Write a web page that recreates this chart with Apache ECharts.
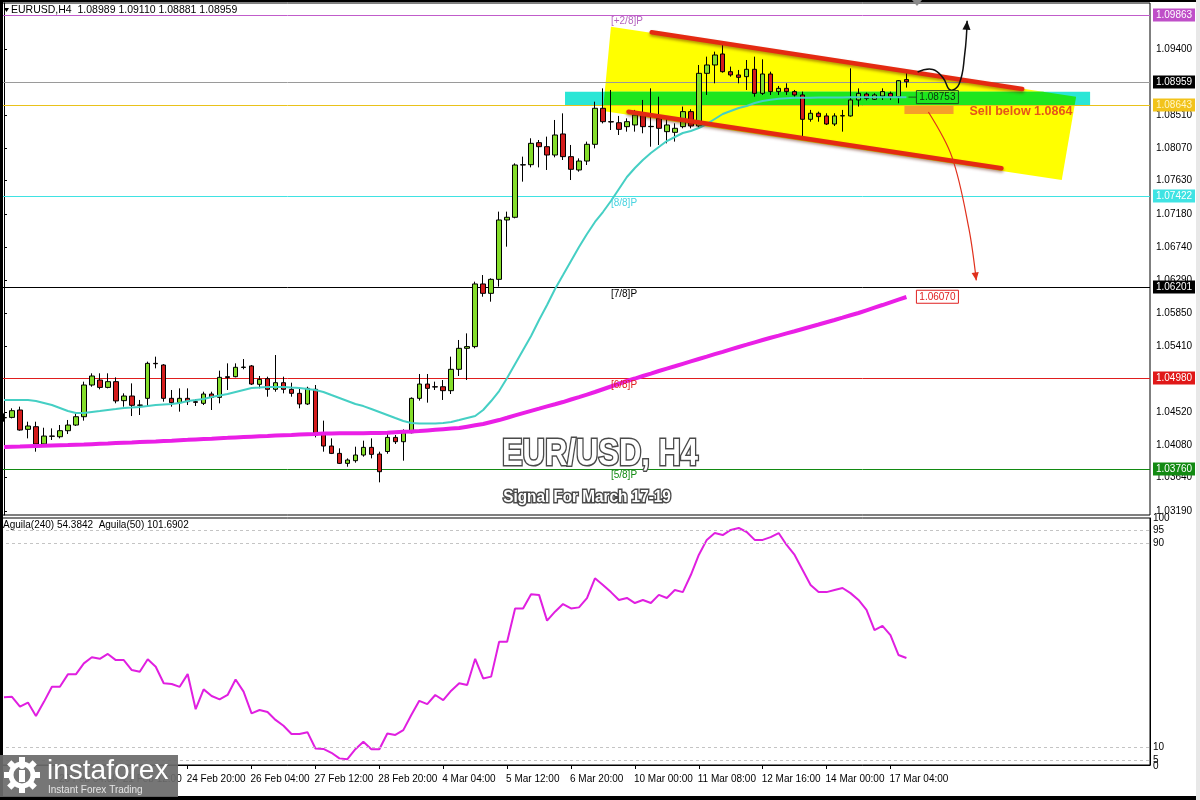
<!DOCTYPE html>
<html><head><meta charset="utf-8">
<script src="https://cdn.jsdelivr.net/npm/echarts@6/dist/echarts.min.js"></script>
<style>html,body{margin:0;padding:0;background:#fff;}#c{width:1200px;height:800px;}</style>
</head><body><div id="c"></div>
<script>
// ---------- price bars (H4 EURUSD) ----------
const opens = [1.04447,1.04449,1.04548,1.04288,1.04324,1.04091,1.04198,1.04189,1.04270,1.04346,
1.04458,1.04884,1.04951,1.04852,1.04929,1.04674,1.04736,1.04611,1.04705,1.05175,
1.05153,1.04705,1.04647,1.04705,1.04660,1.04638,1.04763,1.04718,1.04996,1.04996,
1.05120,1.05140,1.04893,1.04969,1.04826,1.04915,1.04826,1.04772,1.04629,1.04826,
1.04220,1.04064,1.03965,1.03831,1.03867,1.03943,1.04046,1.03956,1.03990,1.04180,
1.04122,1.04243,1.04705,1.04897,1.04861,1.04861,1.04808,1.05095,1.05377,1.05400,
1.06242,1.06116,1.06304,1.07102,1.07138,1.07841,1.07845,1.08141,1.08087,1.07975,
1.08258,1.07953,1.07774,1.07894,1.08119,1.08603,1.08423,1.08409,1.08356,1.08379,
1.08513,1.08356,1.08468,1.08289,1.08280,1.08356,1.08558,1.08365,1.09073,1.09185,
1.09333,1.09095,1.09051,1.09028,1.09127,1.08804,1.09064,1.08827,1.08871,1.08827,
1.08782,1.08455,1.08536,1.08500,1.08392,1.08500,1.08500,1.08715,1.08795,1.08724,
1.08768,1.08804,1.08759,1.08989];
const closes = [1.04443,1.04539,1.04279,1.04333,1.04091,1.04198,1.04195,1.04270,1.04346,1.04458,
1.04884,1.05005,1.04852,1.04929,1.04670,1.04736,1.04611,1.04615,1.05175,1.05170,
1.04705,1.04647,1.04705,1.04660,1.04651,1.04763,1.04718,1.04987,1.04985,1.05122,
1.05125,1.04897,1.04960,1.04826,1.04915,1.04826,1.04772,1.04629,1.04839,1.04212,
1.04064,1.03965,1.03831,1.03876,1.03943,1.04046,1.03952,1.03719,1.04180,1.04122,
1.04243,1.04705,1.04897,1.04839,1.04857,1.04808,1.05095,1.05377,1.05400,1.06242,
1.06116,1.06304,1.07102,1.07138,1.07841,1.07845,1.08132,1.08087,1.07975,1.08244,
1.07953,1.07783,1.07894,1.08119,1.08603,1.08423,1.08419,1.08320,1.08423,1.08513,
1.08356,1.08360,1.08334,1.08379,1.08334,1.08558,1.08365,1.09073,1.09185,1.09319,
1.09095,1.09051,1.09019,1.09127,1.08804,1.09064,1.08827,1.08871,1.08827,1.08782,
1.08455,1.08536,1.08491,1.08392,1.08500,1.08504,1.08715,1.08804,1.08735,1.08782,
1.08827,1.08759,1.08974,1.08959];
const lows = [1.04391,1.04436,1.04270,1.04167,1.03988,1.04078,1.04145,1.04167,1.04225,1.04333,
1.04405,1.04861,1.04826,1.04839,1.04638,1.04593,1.04467,1.04481,1.04593,1.05108,
1.04660,1.04593,1.04526,1.04615,1.04602,1.04615,1.04548,1.04638,1.04817,1.04987,
1.05095,1.04884,1.04839,1.04727,1.04794,1.04772,1.04727,1.04571,1.04615,1.04180,
1.03988,1.03956,1.03822,1.03786,1.03840,1.03921,1.03898,1.03576,1.03960,1.04091,
1.03867,1.04234,1.04674,1.04647,1.04817,1.04683,1.04763,1.05005,1.04951,1.05377,
1.06071,1.06004,1.06206,1.06743,1.07124,1.07617,1.07809,1.07809,1.07774,1.07944,
1.07908,1.07639,1.07751,1.07841,1.08065,1.08400,1.08311,1.08244,1.08289,1.08289,
1.08267,1.08087,1.08110,1.08132,1.08155,1.08334,1.08334,1.08334,1.08782,1.08939,
1.09082,1.09028,1.08939,1.08849,1.08759,1.08782,1.08782,1.08782,1.08782,1.08759,
1.08222,1.08423,1.08423,1.08379,1.08365,1.08289,1.08491,1.08626,1.08710,1.08715,
1.08715,1.08715,1.08670,1.08881];
const highs = [1.04503,1.04571,1.04593,1.04391,1.04391,1.04310,1.04301,1.04346,1.04414,1.04503,
1.04929,1.05041,1.05041,1.05041,1.04987,1.04772,1.04906,1.04683,1.05198,1.05265,
1.05165,1.04817,1.04839,1.04839,1.04692,1.04794,1.04794,1.05077,1.05175,1.05175,
1.05233,1.05153,1.05005,1.04996,1.05287,1.04996,1.04915,1.04839,1.04861,1.04884,
1.04405,1.04167,1.04033,1.03898,1.04055,1.04136,1.04167,1.03988,1.04225,1.04212,
1.04288,1.04718,1.05032,1.05032,1.04929,1.04951,1.05265,1.05489,1.05578,1.06273,
1.06362,1.06318,1.07214,1.07214,1.07863,1.07953,1.08200,1.08177,1.08222,1.08446,
1.08535,1.08110,1.07930,1.08155,1.08692,1.08871,1.08849,1.08500,1.08468,1.08581,
1.08715,1.08871,1.08759,1.08468,1.08401,1.08626,1.08590,1.09185,1.09297,1.09364,
1.09454,1.09163,1.09118,1.09252,1.09297,1.09261,1.09095,1.08903,1.08939,1.08849,
1.08827,1.08581,1.08558,1.08536,1.08536,1.08581,1.09140,1.08871,1.08815,1.08804,
1.08871,1.08827,1.08983,1.09110];
// fast moving average (turquoise) and slow moving average (magenta)
const maFast = [1.04682,1.04682,1.04682,1.04682,1.04669,1.04642,1.04615,1.04575,1.04534,1.04507,
1.04507,1.04521,1.04534,1.04548,1.04561,1.04575,1.04581,1.04588,1.04601,1.04615,
1.04622,1.04628,1.04642,1.04669,1.04682,1.04696,1.04723,1.04743,1.04763,1.04790,
1.04817,1.04844,1.04850,1.04857,1.04857,1.04857,1.04850,1.04844,1.04830,1.04817,
1.04790,1.04749,1.04709,1.04669,1.04628,1.04601,1.04561,1.04521,1.04481,1.04440,
1.04400,1.04373,1.04366,1.04366,1.04366,1.04373,1.04387,1.04413,1.04440,1.04467,
1.04548,1.04669,1.04803,1.04978,1.05166,1.05354,1.05542,1.05758,1.05959,1.06174,
1.06362,1.06551,1.06739,1.06913,1.07075,1.07209,1.07357,1.07518,1.07680,1.07801,
1.07908,1.08002,1.08083,1.08163,1.08217,1.08271,1.08298,1.08338,1.08392,1.08459,
1.08526,1.08567,1.08607,1.08634,1.08674,1.08701,1.08718,1.08730,1.08738,1.08743,
1.08745,1.08746,1.08747,1.08748,1.08748,1.08749,1.08750,1.08750,1.08751,1.08751,
1.08752,1.08752,1.08753,1.08753];
const maSlow = [1.04050,1.04054,1.04057,1.04061,1.04064,1.04067,1.04071,1.04074,1.04077,1.04081,
1.04084,1.04089,1.04094,1.04098,1.04103,1.04108,1.04112,1.04117,1.04122,1.04126,
1.04131,1.04136,1.04142,1.04147,1.04153,1.04158,1.04163,1.04169,1.04174,1.04180,
1.04185,1.04190,1.04195,1.04199,1.04204,1.04209,1.04213,1.04218,1.04223,1.04227,
1.04232,1.04233,1.04234,1.04235,1.04236,1.04237,1.04238,1.04239,1.04244,1.04250,
1.04255,1.04260,1.04266,1.04274,1.04282,1.04290,1.04298,1.04306,1.04324,1.04342,
1.04360,1.04387,1.04413,1.04444,1.04476,1.04507,1.04537,1.04566,1.04596,1.04625,
1.04655,1.04689,1.04722,1.04756,1.04790,1.04827,1.04864,1.04901,1.04938,1.04971,
1.05005,1.05038,1.05072,1.05104,1.05136,1.05169,1.05201,1.05233,1.05265,1.05298,
1.05330,1.05363,1.05395,1.05426,1.05458,1.05489,1.05519,1.05548,1.05578,1.05607,
1.05637,1.05667,1.05697,1.05728,1.05758,1.05789,1.05821,1.05852,1.05888,1.05924,
1.05959,1.05995,1.06031,1.06067];
// oscillator panel (Aguila)
const aguila = [29.6,29.8,25.9,27.5,22.2,27.8,33.7,33.7,38.6,38.6,
42.9,45.3,44.7,46.6,44.2,44.2,40.3,39.6,44.5,41.6,
35.1,34.8,33.7,38.7,24.9,32.7,30.1,28.8,30.5,36.6,
31.8,23.3,24.6,23.8,20.7,18.4,15.2,15.2,15.9,9.5,
9.3,7.8,5.6,5.3,9.2,12.1,9.2,9.2,15.4,14.8,
16.7,22.6,28.2,26.9,30.5,28.5,32.2,35.1,34.4,44.7,
37.0,37.7,51.4,51.4,64.5,64.5,70.1,69.8,59.7,63.2,
66.2,64.5,64.9,68.5,76.3,73.7,70.9,67.8,68.6,66.6,
67.8,66.6,69.8,68.6,71.7,70.9,77.6,85.5,91.4,94.1,
93.3,95.3,96.1,94.5,91.4,91.4,92.5,94.1,89.4,85.5,
79.6,73.7,70.9,70.9,71.7,72.5,70.5,67.8,63.9,56.0,
57.6,54.0,46.2,45.0];

// ---------- axes / ticks ----------
const TOTAL_SLOTS = 144;               // bars + empty chart shift on the right
const priceMin = 1.03137, priceMax = 1.10018;
const priceTicks = [1.03190,1.03640,1.04080,1.04520,1.05410,1.05850,1.06290,1.06740,1.07180,1.07630,1.08070,1.08510,1.09400];
const oscMin = 3, oscMax = 100;
const oscTicks = [100,95,90,10,5];
const oscBottomLabel = '0';
const oscLevels = [95,90,10,5];
const xTickIndex = [0,7,15,23,31,39,47,55,63,71,79,87,95,103,111];
const xTickLabels = ['19 Feb 2025','20 Feb 04:00','21 Feb 12:00','24 Feb 20:00','26 Feb 04:00','27 Feb 12:00','28 Feb 20:00','4 Mar 04:00','5 Mar 12:00','6 Mar 20:00','10 Mar 00:00','11 Mar 08:00','12 Mar 16:00','14 Mar 00:00','17 Mar 04:00'];

// ---------- horizontal levels ----------
const levelValues = [1.09863,1.08959,1.08643,1.07422,1.06201,1.04980,1.03760];
const levelLineColors = ['#c15ccb','#9a9a9a','#e9c21a','#3fe3e3','#000000','#e01e1e','#128a12'];
const levelBoxColors = ['#bf4fc8','#000000','#f2c31b','#3fe3e3','#000000','#e01818','#128a12'];
const levelTextColors = ['#ffffff','#ffffff','#fff6c8','#ffffff','#ffffff','#ffffff','#ffffff'];
const murreyNames = ['[+2/8]P','[8/8]P','[7/8]P','[6/8]P','[5/8]P'];
const murreyValues = [1.09863,1.07422,1.06201,1.04980,1.03760];
const murreyColors = ['#b565c0','#48d3e0','#000000','#e02020','#128a12'];
const murreyAt = 76;

// ---------- drawing annotations (bar index, price) ----------
const channelZone = [[76.0,1.09700],[134.25,1.08759],[132.45,1.07639],[75.0,1.08567]];
const channelTop = [[81.1,1.09624],[127.5,1.08862]];
const channelBottom = [[78.2,1.08557],[124.9,1.07797]];
const supportBand = [[70.25,1.08826],[136.0,1.08634]];
const sellBox = [[112.75,1.08634],[118.9,1.08526]];
const upPath = [[114.4,1.09091],[116.3,1.09125],[117.6,1.09010],[118.5,1.08849],[119.6,1.08930],[120.3,1.09330],[120.6,1.09780]];
const downPath = [[115.75,1.08553],[118.7,1.07950],[120.8,1.07000],[121.75,1.06290]];
const sellText = 'Sell below 1.0864';
const sellTextAt = [120.9,1.08560];
const maFastTag = {at:[114.25,1.08753], text:'1.08753'};
const maSlowTag = {at:[114.25,1.06070], text:'1.06070'};

const FONT = '"Liberation Sans", Arial, sans-serif';
const slots = Array.from({length: TOTAL_SLOTS}, (_, i) => String(i));
const candleData = opens.map((o, i) => [o, closes[i], lows[i], highs[i]]);
const tickMap = new Map(xTickIndex.map((v, k) => [v, xTickLabels[k]]));

const chart = echarts.init(document.getElementById('c'), null, {width:1200, height:800});

function arrowHead(a, b, size) {
  const dx = b[0]-a[0], dy = b[1]-a[1], L = Math.hypot(dx, dy) || 1;
  const ux = dx/L, uy = dy/L;
  return [[b[0], b[1]], [b[0]-ux*size - uy*size*0.45, b[1]-uy*size + ux*size*0.45], [b[0]-ux*size + uy*size*0.45, b[1]-uy*size - ux*size*0.45]];
}
// clip a polygon by an axis-aligned rectangle (Sutherland-Hodgman)
function clipRect(poly, x0, y0, x1, y1) {
  const edges = [
    [(p) => p[0] >= x0, (a, b) => { const t = (x0-a[0])/(b[0]-a[0]); return [x0, a[1]+t*(b[1]-a[1])]; }],
    [(p) => p[0] <= x1, (a, b) => { const t = (x1-a[0])/(b[0]-a[0]); return [x1, a[1]+t*(b[1]-a[1])]; }],
    [(p) => p[1] >= y0, (a, b) => { const t = (y0-a[1])/(b[1]-a[1]); return [a[0]+t*(b[0]-a[0]), y0]; }],
    [(p) => p[1] <= y1, (a, b) => { const t = (y1-a[1])/(b[1]-a[1]); return [a[0]+t*(b[0]-a[0]), y1]; }]
  ];
  let out = poly;
  edges.forEach(([inside, cut]) => {
    const inp = out; out = [];
    for (let i = 0; i < inp.length; i++) {
      const cur = inp[i], prev = inp[(i + inp.length - 1) % inp.length];
      if (inside(cur)) { if (!inside(prev)) out.push(cut(prev, cur)); out.push(cur); }
      else if (inside(prev)) out.push(cut(prev, cur));
    }
  });
  return out;
}

const option = {
  animation: false,
  backgroundColor: '#ffffff',
  grid: [
    {left: 0, right: 50, top: 3, height: 512, show: true, borderColor: '#000', borderWidth: 1, backgroundColor: 'transparent'},
    {left: 0, right: 50, top: 518, height: 247, show: true, borderColor: '#000', borderWidth: 1, backgroundColor: 'transparent'}
  ],
  xAxis: [
    {type: 'category', gridIndex: 0, data: slots, show: false},
    {type: 'category', gridIndex: 1, data: slots,
      axisLine: {show: true, lineStyle: {color: '#000'}},
      axisTick: {show: true, length: 4, alignWithLabel: true, interval: (i) => tickMap.has(i), lineStyle: {color: '#000'}},
      axisLabel: {show: true, interval: (i) => tickMap.has(i), formatter: (v) => tickMap.get(Number(v)) || '',
        align: 'left', margin: 9, color: '#000', fontSize: 10, fontFamily: FONT, padding: [0,0,0,-1]},
      splitLine: {show: false}},
    {type: 'value', gridIndex: 0, min: -0.5, max: TOTAL_SLOTS - 0.5, show: false}
  ],
  yAxis: [
    {type: 'value', gridIndex: 0, position: 'right', min: priceMin, max: priceMax,
      axisLine: {show: true, lineStyle: {color: '#000'}},
      axisTick: {show: true, length: 3, customValues: priceTicks, lineStyle: {color: '#000'}},
      axisLabel: {show: true, customValues: priceTicks, formatter: (v) => v.toFixed(5), color: '#000', fontSize: 10, fontFamily: FONT, margin: 6},
      splitLine: {show: false}},
    {type: 'value', gridIndex: 1, position: 'right', min: oscMin, max: oscMax,
      axisLine: {show: true, lineStyle: {color: '#000'}},
      axisTick: {show: false},
      axisLabel: {show: true, customValues: oscTicks, formatter: (v) => String(v), color: '#000', fontSize: 10, fontFamily: FONT, margin: 3},
      splitLine: {show: false}}
  ],
  series: [
    { // background drawings + horizontal price levels
      type: 'custom', xAxisIndex: 2, yAxisIndex: 0, z: 1, silent: true, clip: false, data: [[0, 1.06]],
      renderItem: (params, api) => {
        const c = (p) => api.coord(p);
        const zone = channelZone.map(c);
        const b0 = c(supportBand[0]), b1 = c(supportBand[1]);
        const s0 = c(sellBox[0]), s1 = c(sellBox[1]);
        const overlap = clipRect(zone, Math.min(b0[0], b1[0]), Math.min(b0[1], b1[1]), Math.max(b0[0], b1[0]), Math.max(b0[1], b1[1]));
        const ch = [
          {type: 'polygon', shape: {points: zone}, style: {fill: '#ffff00'}},
          {type: 'rect', shape: {x: b0[0], y: b0[1], width: b1[0]-b0[0], height: b1[1]-b0[1]}, style: {fill: '#2ae6d6'}},
          {type: 'polygon', shape: {points: overlap}, style: {fill: '#1ee61e'}},
          {type: 'rect', shape: {x: s0[0], y: s0[1], width: s1[0]-s0[0], height: s1[1]-s0[1]}, style: {fill: '#f5a02a'}}
        ];
        levelValues.forEach((v, k) => {
          const a = c([-0.5, v]), b = c([TOTAL_SLOTS - 0.5, v]);
          const y = Math.round(a[1]) + 0.5;
          ch.push({type: 'line', shape: {x1: a[0], y1: y, x2: b[0], y2: y}, style: {stroke: levelLineColors[k], lineWidth: 1}});
          ch.push({type: 'rect', shape: {x: b[0] + 3, y: y - 7, width: 42, height: 13}, style: {fill: levelBoxColors[k]}});
          ch.push({type: 'text', style: {text: v.toFixed(5), x: b[0] + 24, y: y, fill: levelTextColors[k], font: '10px ' + FONT, align: 'center', verticalAlign: 'middle'}});
        });
        return {type: 'group', children: ch};
      }
    },
    {
      type: 'candlestick', xAxisIndex: 0, yAxisIndex: 0, z: 3, silent: true, barWidth: 5,
      data: candleData,
      itemStyle: {color: '#84dd2a', color0: '#d41c1c', borderColor: '#000', borderColor0: '#000', borderColorDoji: '#000', borderWidth: 1}
    },
    {type: 'line', xAxisIndex: 0, yAxisIndex: 0, z: 4, silent: true, data: maFast, symbol: 'none',
      lineStyle: {color: '#45cfc4', width: 2}},
    {type: 'line', xAxisIndex: 0, yAxisIndex: 0, z: 4, silent: true, data: maSlow, symbol: 'none',
      lineStyle: {color: '#ea1fe6', width: 4}},
    { // foreground drawings
      type: 'custom', xAxisIndex: 2, yAxisIndex: 0, z: 6, silent: true, clip: false, data: [[0, 1.06]],
      renderItem: (params, api) => {
        const c = (p) => api.coord(p);
        const ch = [];
        [channelTop, channelBottom].forEach((ln) => {
          const a = c(ln[0]), b = c(ln[1]);
          ch.push({type: 'line', shape: {x1: a[0], y1: a[1], x2: b[0], y2: b[1]},
            style: {stroke: '#e42a12', lineWidth: 4.5, lineCap: 'round', shadowColor: 'rgba(90,20,0,0.45)', shadowBlur: 3, shadowOffsetY: 2}});
        });
        murreyNames.forEach((n, k) => {
          const p = c([murreyAt, murreyValues[k]]);
          ch.push({type: 'text', style: {text: n, x: p[0], y: p[1] + 2, fill: murreyColors[k], font: '10px ' + FONT, align: 'left', verticalAlign: 'top'}});
        });
        const up = upPath.map(c), dn = downPath.map(c);
        ch.push({type: 'polyline', shape: {points: up, smooth: 0.45}, style: {stroke: '#111', lineWidth: 1.5, fill: null}});
        ch.push({type: 'polygon', shape: {points: arrowHead(up[up.length-2], up[up.length-1], 9)}, style: {fill: '#111'}});
        ch.push({type: 'polyline', shape: {points: dn, smooth: 0.35}, style: {stroke: '#e0301c', lineWidth: 1.2, fill: null}});
        ch.push({type: 'polygon', shape: {points: arrowHead(dn[dn.length-2], dn[dn.length-1], 8)}, style: {fill: '#e0301c'}});
        const st = c(sellTextAt);
        ch.push({type: 'text', style: {text: sellText, x: st[0], y: st[1], fill: '#e5541a', font: 'bold 12.5px ' + FONT,
          align: 'left', verticalAlign: 'middle', shadowColor: 'rgba(120,40,0,0.35)', shadowBlur: 1, shadowOffsetX: 1, shadowOffsetY: 1}});
        const ft = c(maFastTag.at), lastFast = c([opens.length - 1, maFast[maFast.length - 1]]);
        ch.push({type: 'line', shape: {x1: lastFast[0] + 2, y1: lastFast[1], x2: ft[0], y2: ft[1]}, style: {stroke: '#1d5a1d', lineWidth: 1}});
        ch.push({type: 'rect', shape: {x: ft[0], y: ft[1] - 6.5, width: 42, height: 13}, style: {fill: null, stroke: '#1d4a1d', lineWidth: 1}});
        ch.push({type: 'text', style: {text: maFastTag.text, x: ft[0] + 21, y: ft[1] + 0.5, fill: '#0e2e0e', font: '10px ' + FONT, align: 'center', verticalAlign: 'middle'}});
        const mt = c(maSlowTag.at);
        ch.push({type: 'rect', shape: {x: mt[0], y: mt[1] - 6.5, width: 42, height: 13}, style: {fill: '#fff', stroke: '#e02020', lineWidth: 1}});
        ch.push({type: 'text', style: {text: maSlowTag.text, x: mt[0] + 21, y: mt[1] + 0.5, fill: '#e02020', font: '10px ' + FONT, align: 'center', verticalAlign: 'middle'}});
        return {type: 'group', children: ch};
      }
    },
    {type: 'line', xAxisIndex: 1, yAxisIndex: 1, z: 4, silent: true, data: aguila, symbol: 'none',
      lineStyle: {color: '#e01fe0', width: 2},
      markLine: {silent: true, symbol: ['none', 'none'], label: {show: false},
        lineStyle: {color: '#c4c4c4', type: [3, 3], width: 1},
        data: oscLevels.map((v) => ({yAxis: v}))}}
  ],
  graphic: [
    {type: 'rect', shape: {x: 0, y: 0, width: 1200, height: 2}, style: {fill: '#000'}, z: 100},
    {type: 'rect', shape: {x: 0, y: 0, width: 3, height: 800}, style: {fill: '#000'}, z: 100},
    {type: 'rect', shape: {x: 0, y: 796, width: 1200, height: 4}, style: {fill: '#000'}, z: 100},
    {type: 'rect', shape: {x: 1196, y: 0, width: 4, height: 800}, style: {fill: '#e8e8e8'}, z: 100},
    {type: 'polygon', shape: {points: [[912, 0], [922, 0], [917, 6]]}, style: {fill: '#8a8a8a'}, z: 100},
    {type: 'polygon', shape: {points: [[4, 8], [9, 8], [6.5, 12]]}, style: {fill: '#000'}, z: 100},
    {type: 'text', x: 11, y: 10, style: {text: 'EURUSD,H4  1.08989 1.09110 1.08881 1.08959', font: '10.5px ' + FONT, fill: '#000', verticalAlign: 'middle'}, z: 100},
    {type: 'text', x: 3, y: 525, style: {text: 'Aguila(240) 54.3842  Aguila(50) 101.6902', font: '10px ' + FONT, fill: '#000', verticalAlign: 'middle'}, z: 100},
    {type: 'text', x: 1153, y: 766, style: {text: oscBottomLabel, font: '10px ' + FONT, fill: '#000', verticalAlign: 'middle'}, z: 100},
    {type: 'text', x: 600, y: 455, scaleX: 0.86, style: {text: 'EUR/USD, H4', font: 'bold 36px ' + FONT, fill: '#ffffff', stroke: '#4a4a4a', lineWidth: 3, strokeFirst: true,
      align: 'center', verticalAlign: 'middle', shadowColor: 'rgba(0,0,0,0.45)', shadowBlur: 2, shadowOffsetX: 1, shadowOffsetY: 2}, z: 100},
    {type: 'text', x: 587, y: 497, scaleX: 0.9, style: {text: 'Signal For March 17-19', font: 'bold 17px ' + FONT, fill: '#ffffff', stroke: '#4a4a4a', lineWidth: 3, strokeFirst: true,
      align: 'center', verticalAlign: 'middle', shadowColor: 'rgba(0,0,0,0.45)', shadowBlur: 2, shadowOffsetX: 1, shadowOffsetY: 1}, z: 100},
    // logo
    {type: 'rect', shape: {x: 0, y: 755, width: 178, height: 42}, style: {fill: 'rgba(108,108,108,0.93)'}, z: 101},
    {type: 'circle', shape: {cx: 22, cy: 775, r: 11}, style: {fill: null, stroke: '#fff', lineWidth: 5}, z: 102},
    {type: 'group', x: 22, y: 775, z: 102, children: [0, 45, 90, 135, 180, 225, 270, 315].map((d) => ({
      type: 'rect', rotation: d * Math.PI / 180, shape: {x: -3, y: -18, width: 6, height: 6}, style: {fill: '#fff'}, z: 102}))},
    {type: 'rect', shape: {x: 19, y: 770, width: 6, height: 12}, style: {fill: '#fff'}, z: 102},
    {type: 'circle', shape: {cx: 22, cy: 766, r: 3}, style: {fill: '#fff'}, z: 102},
    {type: 'text', x: 47, y: 771, style: {text: 'instaforex', font: '28px ' + FONT, fill: '#ffffff', verticalAlign: 'middle'}, z: 102},
    {type: 'text', x: 48, y: 790, style: {text: 'Instant Forex Trading', font: '10px ' + FONT, fill: '#e6e6e6', verticalAlign: 'middle'}, z: 102}
  ]
};
chart.setOption(option);
</script>
</body></html>
